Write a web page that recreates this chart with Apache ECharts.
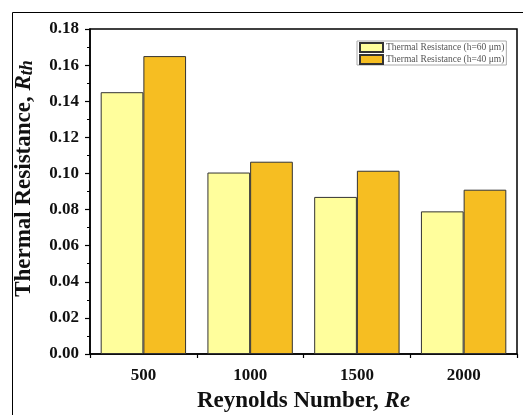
<!DOCTYPE html>
<html><head><meta charset="utf-8">
<script src="https://cdn.jsdelivr.net/npm/echarts@6/dist/echarts.min.js"></script>
<style>html,body{margin:0;padding:0;background:#fff}#c{width:523px;height:415px}</style>
</head><body><div id="c"></div>
<script>
const categories = ['500', '1000', '1500', '2000'];
const seriesNames = ['Thermal Resistance (h=60 μm)', 'Thermal Resistance (h=40 μm)'];
const h60 = [0.145, 0.1005, 0.087, 0.079];
const h40 = [0.165, 0.1065, 0.1015, 0.091];
const yTicks = { min: 0, max: 0.18, interval: 0.02 };

const chart = echarts.init(document.getElementById('c'), null, { renderer: 'canvas' });
const serif = '"Liberation Serif", "DejaVu Serif", serif';
chart.setOption({
  animation: false,
  backgroundColor: '#fff',
  graphic: [{
    type: 'rect', left: 10, top: 10, z: 100, silent: true,
    shape: { x: 0, y: 0, width: 511, height: 420 },
    style: { fill: 'none', stroke: '#000', lineWidth: 1 }
  }],
  grid: { left: 90, right: 6, top: 29, bottom: 61, containLabel: false, outerBoundsMode: 'none',
    show: true, borderColor: '#000', borderWidth: 1.5, backgroundColor: 'transparent' },
  legend: {
    orient: 'vertical', left: 357, top: 41, itemWidth: 23, itemHeight: 9, itemGap: 1,
    padding: [1, 2, 0, 2], borderColor: '#aaa', borderWidth: 1, icon: 'rect',
    textStyle: { fontFamily: serif, fontSize: 9.5, lineHeight: 10, color: '#555', padding: [0, 0, 0, -2] },
    data: seriesNames
  },
  xAxis: {
    type: 'category', data: categories, boundaryGap: true,
    axisLine: { lineStyle: { color: '#000', width: 1.5 } },
    axisTick: { show: true, length: 4, lineStyle: { color: '#000', width: 1.2 } },
    axisLabel: { fontFamily: serif, fontWeight: 'bold', fontSize: 17, color: '#111', margin: 13 },
    name: '{b|Reynolds Number, }{i|Re}', nameLocation: 'middle', nameGap: 36,
    nameTextStyle: { rich: {
      b: { fontFamily: serif, fontWeight: 'bold', fontSize: 23, color: '#111' },
      i: { fontFamily: serif, fontWeight: 'bold', fontStyle: 'italic', fontSize: 23, color: '#111' }
    } }
  },
  yAxis: {
    type: 'value', min: yTicks.min, max: yTicks.max, interval: yTicks.interval,
    splitLine: { show: false },
    axisLine: { show: true, lineStyle: { color: '#000', width: 1.5 } },
    axisTick: { show: true, length: 5, lineStyle: { color: '#000', width: 1.2 } },
    minorTick: { show: true, splitNumber: 2, length: 3, lineStyle: { color: '#000', width: 1 } },
    axisLabel: { fontFamily: serif, fontWeight: 'bold', fontSize: 17, color: '#111', margin: 11,
      formatter: v => v.toFixed(2) },
    name: '{b|Thermal Resistance, }{i|R}{s|th}', nameLocation: 'middle', nameGap: 54,
    nameTextStyle: { padding: [0, 0, 0, 26], rich: {
      b: { fontFamily: serif, fontWeight: 'bold', fontSize: 23, color: '#111' },
      i: { fontFamily: serif, fontWeight: 'bold', fontStyle: 'italic', fontSize: 23, color: '#111' },
      s: { fontFamily: serif, fontWeight: 'bold', fontStyle: 'italic', fontSize: 18, color: '#111', padding: [6, 0, 0, 0] }
    } }
  },
  series: [
    { name: seriesNames[0], type: 'bar', data: h60, barGap: '0%', barCategoryGap: '20%',
      itemStyle: { color: '#FFFE9C', borderColor: '#333', borderWidth: 1 } },
    { name: seriesNames[1], type: 'bar', data: h40,
      itemStyle: { color: '#F6BE22', borderColor: '#333', borderWidth: 1 } }
  ]
});
</script></body></html>
